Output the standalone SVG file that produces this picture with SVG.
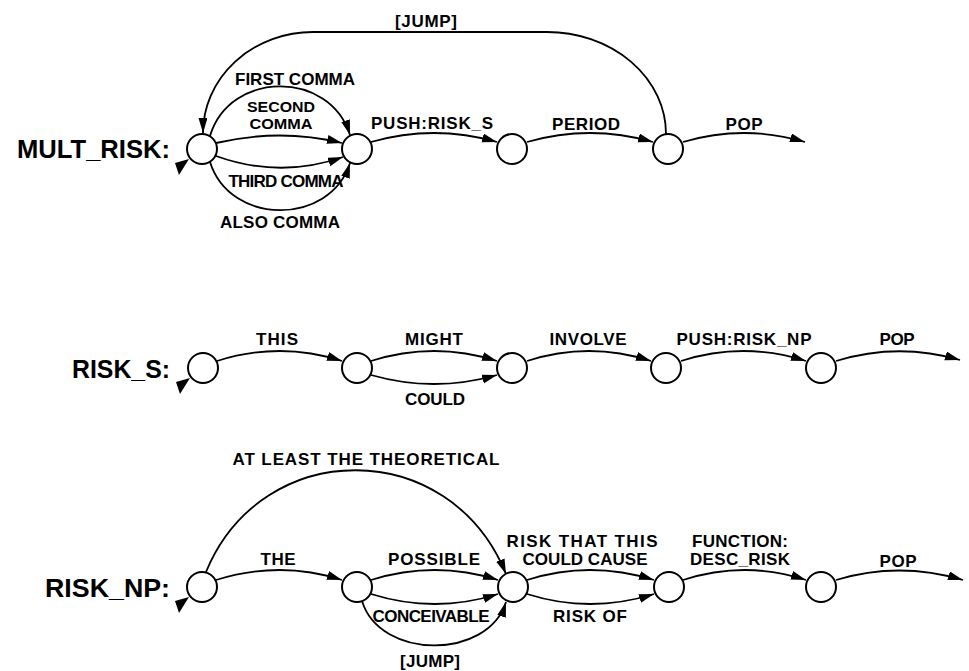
<svg xmlns="http://www.w3.org/2000/svg" width="969" height="671" viewBox="0 0 969 671">
<style>
.node{fill:#fff;stroke:#000;stroke-width:2}
.edge{fill:none;stroke:#000;stroke-width:1.8;marker-end:url(#arr)}
.lbl{font-family:"Liberation Sans",Arial,sans-serif;font-weight:bold;font-size:17px;fill:#000;text-anchor:middle}
.sm{font-size:14.5px}
.net{font-family:"Liberation Sans",Arial,sans-serif;font-weight:bold;font-size:25px;fill:#000}
</style>
<defs>
<marker id="arr" markerUnits="userSpaceOnUse" markerWidth="16" markerHeight="10" refX="15" refY="4.5" orient="auto">
<path d="M0,0 L15,4.5 L0,9 Z" fill="#000"/>
</marker>
<polygon id="entry" points="-27,14 -13,10 -23,26" fill="#000"/>
</defs>
<rect width="969" height="671" fill="#fff"/>

<g id="connectors">
<!-- MULT_RISK -->
<path class="edge" d="M666,134 A119,102 0 0 0 547,32 L313,32 A110,101 0 0 0 203,133"/>
<path class="edge" d="M210,136 C230,70 330,70 350,135"/>
<path class="edge" d="M216,143 Q280,128 342,143"/>
<path class="edge" d="M216,156 Q280,179 343,157"/>
<path class="edge" d="M210,162 C230,226 330,226 350,163"/>
<path class="edge" d="M371,142 Q434,124 497,142"/>
<path class="edge" d="M527,142 Q590,124 653,142"/>
<path class="edge" d="M683,142 Q744,124 805,142"/>
<!-- RISK_S -->
<path class="edge" d="M217,361 Q280,341 342,361"/>
<path class="edge" d="M371,361 Q434,341 497,361"/>
<path class="edge" d="M371,375 Q434,393 497,375"/>
<path class="edge" d="M527,361 Q589,341 651,361"/>
<path class="edge" d="M681,361 Q743,341 806,361"/>
<path class="edge" d="M836,361 Q898,342 960,360"/>
<!-- RISK_NP -->
<path class="edge" d="M206,572 C262,436 450,436 506,574"/>
<path class="edge" d="M216,580 Q280,560 342,580"/>
<path class="edge" d="M371,580 Q435,560 498,580"/>
<path class="edge" d="M371,594 Q435,614 498,594"/>
<path class="edge" d="M362,601 C380,660 488,660 506,602"/>
<path class="edge" d="M527,580 Q590,560 654,580"/>
<path class="edge" d="M527,594 Q590,614 654,594"/>
<path class="edge" d="M683,580 Q745,560 806,580"/>
<path class="edge" d="M836,580 Q899,561 963,580"/>
<!-- entry arrows -->
<use href="#entry" transform="translate(202,149)"/>
<use href="#entry" transform="translate(203,368)"/>
<use href="#entry" transform="translate(202,587)"/>
</g>

<g id="labels">
<text class="net" x="17" y="158" textLength="153" lengthAdjust="spacingAndGlyphs">MULT_RISK:</text>
<text class="net" x="72" y="378" textLength="98" lengthAdjust="spacingAndGlyphs">RISK_S:</text>
<text class="net" x="45" y="597" textLength="125" lengthAdjust="spacingAndGlyphs">RISK_NP:</text>

<text class="lbl" x="426" y="27" textLength="62">[JUMP]</text>
<text class="lbl" x="295" y="85" textLength="120">FIRST COMMA</text>
<text class="lbl sm" x="281" y="112" textLength="68" lengthAdjust="spacingAndGlyphs">SECOND</text>
<text class="lbl sm" x="281" y="129" textLength="63" lengthAdjust="spacingAndGlyphs">COMMA</text>
<text class="lbl" x="286" y="187" textLength="115">THIRD COMMA</text>
<text class="lbl" x="280" y="228" textLength="120">ALSO COMMA</text>
<text class="lbl" x="432" y="129" textLength="122">PUSH:RISK_S</text>
<text class="lbl" x="586" y="130" textLength="68">PERIOD</text>
<text class="lbl" x="744" y="130" textLength="37">POP</text>

<text class="lbl" x="277" y="345" textLength="42">THIS</text>
<text class="lbl" x="434" y="345" textLength="58">MIGHT</text>
<text class="lbl" x="435" y="405" textLength="60">COULD</text>
<text class="lbl" x="588" y="345" textLength="77">INVOLVE</text>
<text class="lbl" x="744" y="345" textLength="135">PUSH:RISK_NP</text>
<text class="lbl" x="897" y="345" textLength="35">POP</text>

<text class="lbl" x="366" y="465" textLength="267">AT LEAST THE THEORETICAL</text>
<text class="lbl" x="278" y="565" textLength="35">THE</text>
<text class="lbl" x="434" y="565" textLength="92">POSSIBLE</text>
<text class="lbl" x="431" y="622" textLength="117">CONCEIVABLE</text>
<text class="lbl" x="430" y="667" textLength="60">[JUMP]</text>
<text class="lbl" x="582" y="547" textLength="151">RISK THAT THIS</text>
<text class="lbl" x="585" y="565" textLength="125">COULD CAUSE</text>
<text class="lbl" x="590" y="622" textLength="74">RISK OF</text>
<text class="lbl" x="740" y="547" textLength="96">FUNCTION:</text>
<text class="lbl" x="740" y="565" textLength="100">DESC_RISK</text>
<text class="lbl" x="898" y="567" textLength="37">POP</text>
</g>

<g id="n_mr1"><circle class="node" cx="202" cy="149" r="15"/></g>
<g id="n_mr2"><circle class="node" cx="357" cy="149" r="15"/></g>
<g id="n_mr3"><circle class="node" cx="512" cy="149" r="15"/></g>
<g id="n_mr4"><circle class="node" cx="668" cy="149" r="15"/></g>

<g id="n_rs1"><circle class="node" cx="203" cy="368" r="15"/></g>
<g id="n_rs2"><circle class="node" cx="357" cy="368" r="15"/></g>
<g id="n_rs3"><circle class="node" cx="512" cy="368" r="15"/></g>
<g id="n_rs4"><circle class="node" cx="666" cy="368" r="15"/></g>
<g id="n_rs5"><circle class="node" cx="821" cy="368" r="15"/></g>

<g id="n_rn1"><circle class="node" cx="202" cy="587" r="15"/></g>
<g id="n_rn2"><circle class="node" cx="357" cy="587" r="15"/></g>
<g id="n_rn3"><circle class="node" cx="513" cy="587" r="15"/></g>
<g id="n_rn4"><circle class="node" cx="669" cy="587" r="15"/></g>
<g id="n_rn5"><circle class="node" cx="821" cy="587" r="15"/></g>
</svg>
